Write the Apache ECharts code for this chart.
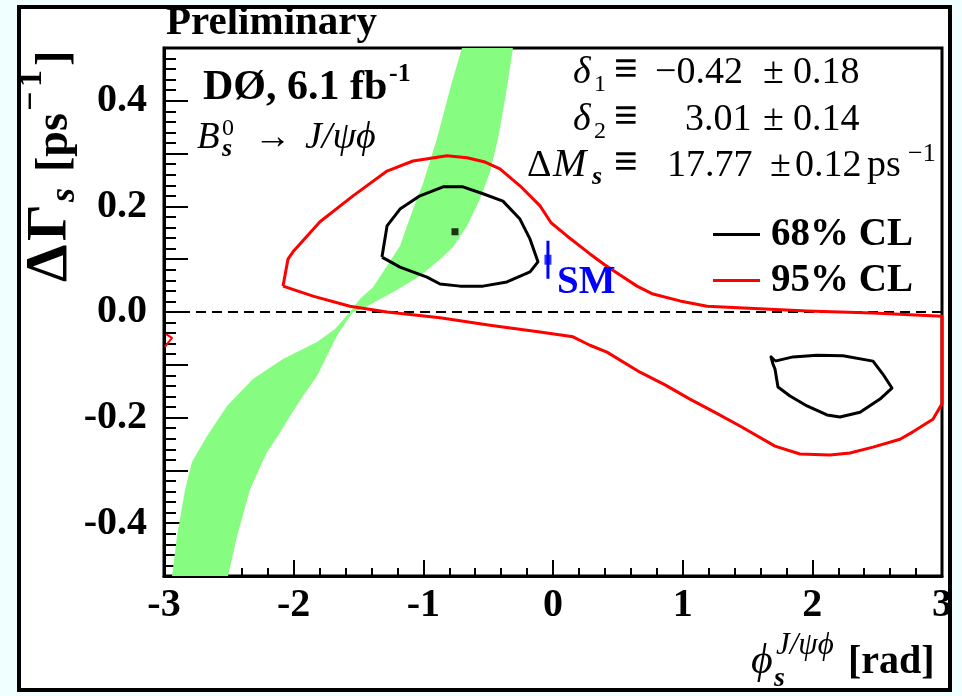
<!DOCTYPE html>
<html>
<head>
<meta charset="utf-8">
<script src="https://cdn.jsdelivr.net/npm/echarts@6/dist/echarts.min.js"></script>
<style>html,body{margin:0;padding:0;background:#f0ffff;}#c{width:962px;height:696px;}</style>
</head>
<body>
<div id="c"></div>
<script>
// ---- data (phi_s [rad], DeltaGamma_s [ps^-1]) ----
// green band (closed outline)
const bandX = [-2.938,-2.900,-2.838,-2.784,-2.668,-2.514,-2.314,-2.082,-1.820,-1.681,-1.566,
  -1.488,-1.388,-1.280,-1.180,-1.126,-1.064,-1.003,-0.895,-0.848,-0.779,-0.702,
  -0.309,
  -0.363,-0.424,-0.486,-0.563,-0.663,-0.771,-0.871,-1.026,-1.219,-1.434,
  -1.550,-1.666,-1.743,-1.820,-1.928,-2.028,-2.121,-2.206,-2.337,-2.437,-2.506];
const bandY = [-0.5,-0.425,-0.337,-0.284,-0.235,-0.178,-0.127,-0.089,-0.057,-0.032,0.0,
  0.025,0.047,0.087,0.125,0.163,0.205,0.243,0.328,0.372,0.436,0.5,
  0.5,
  0.413,0.328,0.265,0.214,0.163,0.123,0.100,0.068,0.040,0.011,
  -0.002,-0.045,-0.083,-0.121,-0.159,-0.197,-0.235,-0.265,-0.336,-0.425,-0.5];

// 95% CL contour
const cl95X = [-2.082,-2.044,-2.005,-1.797,-1.542,-1.280,-1.080,-0.818,-0.663,-0.524,-0.409,-0.255,-0.100,-0.015,0.108,0.285,0.401,0.517,0.648,0.771,0.979,1.188,1.596,1.959,2.468,3.0,
  3.0,2.930,2.776,2.676,2.468,2.290,2.136,1.905,1.712,1.442,1.249,1.056,0.864,0.671,0.416,0.285,0.154,-0.100,-0.486,-0.871,-1.280,-1.566,-1.851,-2.082];
const cl95Y = [0.049,0.100,0.114,0.171,0.220,0.267,0.286,0.296,0.292,0.284,0.271,0.239,0.201,0.169,0.144,0.110,0.089,0.070,0.049,0.034,0.021,0.011,0.006,0.002,-0.002,-0.008,
  -0.174,-0.203,-0.227,-0.241,-0.256,-0.267,-0.271,-0.269,-0.254,-0.216,-0.190,-0.165,-0.138,-0.114,-0.076,-0.063,-0.047,-0.038,-0.025,-0.011,0.0,0.011,0.030,0.049];
const cl95bX = [-2.985,-2.938,-2.977,-2.992];
const cl95bY = [-0.042,-0.049,-0.061,-0.066];

// 68% CL contours
const cl68aX = [-1.319,-1.280,-1.180,-1.026,-0.848,-0.694,-0.540,-0.386,-0.255,-0.177,-0.116,-0.177,-0.355,-0.540,-0.717,-0.871,-0.972,-1.180,-1.319];
const cl68aY = [0.104,0.163,0.195,0.220,0.237,0.237,0.224,0.210,0.176,0.138,0.095,0.076,0.057,0.049,0.049,0.053,0.066,0.085,0.104];
const cl68bX = [1.712,1.851,2.036,2.236,2.468,2.545,2.614,2.522,2.368,2.213,2.113,1.959,1.828,1.735,1.712,1.697,1.681,1.712];
const cl68bY = [-0.093,-0.085,-0.082,-0.083,-0.093,-0.118,-0.144,-0.165,-0.190,-0.199,-0.195,-0.178,-0.159,-0.142,-0.108,-0.099,-0.085,-0.093];

const bestFit = [-0.756, 0.152];
const smPhi = -0.039;
const smDG = 0.099;
const smErrLow = 0.063;
const smErrHigh = 0.135;
const zeroLineX = [-3, 3];

const legendNames = ['68% CL', '95% CL'];

// ---- helpers ----
const SERIF = '"Liberation Serif","Times New Roman","DejaVu Serif",serif';
const zip = (xs, ys) => xs.map((x, i) => [x, ys[i]]);
function txt(x, base, text, size, o) {
  o = o || {};
  return {
    type: 'text', z: 100,
    style: {
      x: x, y: base - 0.32 * size, text: text,
      fill: o.fill || '#000',
      fontSize: size, fontFamily: SERIF,
      fontWeight: o.weight || 'normal', fontStyle: o.style || 'normal',
      align: o.align || 'left', verticalAlign: 'middle'
    }
  };
}

const chart = echarts.init(document.getElementById('c'), null, {renderer: 'canvas'});

const graphics = [
  {type: 'rect', z: -1, shape: {x: 19, y: 7, width: 931, height: 683}, style: {fill: '#ffffff', stroke: '#000', lineWidth: 4}},
  txt(166, 37, 'Preliminary', 41, {weight: 'bold'}),
  // y axis title (rotated)
  {type: 'group', x: 70, y: 282, rotation: Math.PI / 2, z: 100, children: [
    txt(0, 0, 'Δ', 60, {weight: 'bold'}),
    txt(41, 0, 'Γ', 58, {weight: 'bold'}),
    txt(80, 6, 's', 36, {weight: 'bold', style: 'italic'}),
    txt(110, 0, '[ps', 46, {weight: 'bold'}),
    txt(171, -27, '−', 34, {weight: 'bold'}),
    txt(195, -27, '1', 34, {weight: 'bold'}),
    txt(216, 0, ']', 46, {weight: 'bold'})
  ]},
  // DØ label
  txt(203, 102, 'DØ, 6.1 fb', 42, {weight: 'bold'}),
  txt(389, 83, '-1', 26, {weight: 'bold'}),
  txt(197, 150, 'B', 37, {style: 'italic'}),
  txt(222, 136, '0', 24),
  txt(222, 158, 's', 26, {style: 'italic', weight: 'bold'}),
  txt(254, 150, '→', 37),
  txt(305, 150, 'J/ψϕ', 38, {style: 'italic'}),
  // delta lines
  txt(573, 85, 'δ', 38, {style: 'italic'}),
  txt(594, 92, '1', 24),
  txt(614, 85, '≡', 42, {weight: 'bold'}),
  txt(655, 85, '−0.42', 38),
  txt(763, 85, '±', 38),
  txt(793, 85, '0.18', 38),
  txt(573, 132, 'δ', 38, {style: 'italic'}),
  txt(594, 139, '2', 24),
  txt(614, 132, '≡', 42, {weight: 'bold'}),
  txt(685, 132, '3.01', 38),
  txt(763, 132, '±', 38),
  txt(793, 132, '0.14', 38),
  txt(527, 178, 'Δ', 38),
  txt(553, 178, 'M', 40, {style: 'italic'}),
  txt(592, 186, 's', 26, {style: 'italic', weight: 'bold'}),
  txt(614, 178, '≡', 42, {weight: 'bold'}),
  txt(667, 178, '17.77', 38),
  txt(770, 178, '±', 38),
  txt(795, 178, '0.12', 38),
  txt(867, 178, 'ps', 38),
  txt(908, 162, '−1', 26),
  // SM label
  txt(557, 295, 'SM', 39, {weight: 'bold', fill: '#0000ff'}),
  // x axis title
  txt(751, 675, 'ϕ', 42, {style: 'italic'}),
  txt(774, 688, 's', 28, {style: 'italic', weight: 'bold'}),
  txt(776, 656, 'J/ψϕ', 31, {style: 'italic'}),
  txt(848, 675, '[rad]', 40, {weight: 'bold'})
];

const axisCommon = {
  axisLine: {show: true, onZero: false, lineStyle: {color: '#000', width: 3}},
  splitLine: {show: false},
  axisLabel: {color: '#000', fontFamily: SERIF, fontWeight: 'bold', fontSize: 40}
};

const option = {
  backgroundColor: '#f0ffff',
  animation: false,
  grid: {left: 164, right: 20, top: 48, bottom: 120, show: true, backgroundColor: '#fff', borderColor: '#000', borderWidth: 3, containLabel: false, outerBoundsMode: 'none'},
  legend: {
    data: legendNames, orient: 'vertical', left: 713, top: 215, padding: 0,
    icon: 'rect', itemWidth: 47, itemHeight: 3, itemGap: 7,
    selectedMode: false,
    textStyle: {fontFamily: SERIF, fontWeight: 'bold', fontSize: 39, color: '#000', padding: [0, 0, 0, 6]}
  },
  xAxis: Object.assign({}, axisCommon, {
    type: 'value', min: -3, max: 3, interval: 1,
    axisTick: {show: true, inside: true, length: 16, lineStyle: {color: '#000', width: 2}},
    minorTick: {show: true, splitNumber: 5, length: 8, lineStyle: {color: '#000', width: 2}},
    axisLabel: Object.assign({}, axisCommon.axisLabel, {margin: 10, formatter: v => String(v)})
  }),
  yAxis: Object.assign({}, axisCommon, {
    type: 'value', min: -0.5, max: 0.5, interval: 0.1,
    axisTick: {show: true, inside: true, length: 24, lineStyle: {color: '#000', width: 2}},
    minorTick: {show: true, splitNumber: 5, length: 12, lineStyle: {color: '#000', width: 2}},
    axisLabel: Object.assign({}, axisCommon.axisLabel, {margin: 17, formatter: function (v) {
      const k = Math.round(v * 10);
      if (k % 2 !== 0 || Math.abs(k) === 5) return '';
      return (k / 10).toFixed(1);
    }})
  }),
  graphic: {elements: graphics},
  series: [
    {
      type: 'custom', name: 'band', z: 1, silent: true,
      data: [[bandX[0], bandY[0]]],
      renderItem: function (params, api) {
        const pts = bandX.map((x, i) => api.coord([x, bandY[i]]));
        return {type: 'polygon', shape: {points: pts}, style: {fill: '#86fc80', stroke: null}};
      }
    },
    {
      type: 'line', name: 'zero', z: 2, silent: true, symbol: 'none',
      data: zeroLineX.map(x => [x, 0]),
      lineStyle: {color: '#000', width: 2, type: [10, 6]}
    },
    {
      type: 'line', name: '95% CL', z: 3, symbol: 'none', color: '#ff0000',
      data: zip(cl95X, cl95Y), lineStyle: {color: '#ff0000', width: 3, join: 'round'}
    },
    {
      type: 'line', name: '95% CL', z: 3, symbol: 'none', color: '#ff0000',
      data: zip(cl95bX, cl95bY), lineStyle: {color: '#ff0000', width: 2}
    },
    {
      type: 'line', name: '68% CL', z: 4, symbol: 'none', color: '#000',
      data: zip(cl68aX, cl68aY), lineStyle: {color: '#000', width: 3, join: 'round'}
    },
    {
      type: 'line', name: '68% CL', z: 4, symbol: 'none', color: '#000',
      data: zip(cl68bX, cl68bY), lineStyle: {color: '#000', width: 3, join: 'round'}
    },
    {
      type: 'scatter', name: 'best', z: 5, symbol: 'rect', symbolSize: 7,
      itemStyle: {color: '#000'}, data: [bestFit]
    },
    {
      type: 'line', name: 'SMerr', z: 5, symbol: 'none',
      data: [[smPhi, smErrLow], [smPhi, smErrHigh]], lineStyle: {color: '#0000ff', width: 3}
    },
    {
      type: 'scatter', name: 'SM', z: 5, symbol: 'rect', symbolSize: [7, 10],
      itemStyle: {color: '#0000ff'}, data: [[smPhi, smDG]]
    }
  ]
};
chart.setOption(option);
</script>
</body>
</html>
